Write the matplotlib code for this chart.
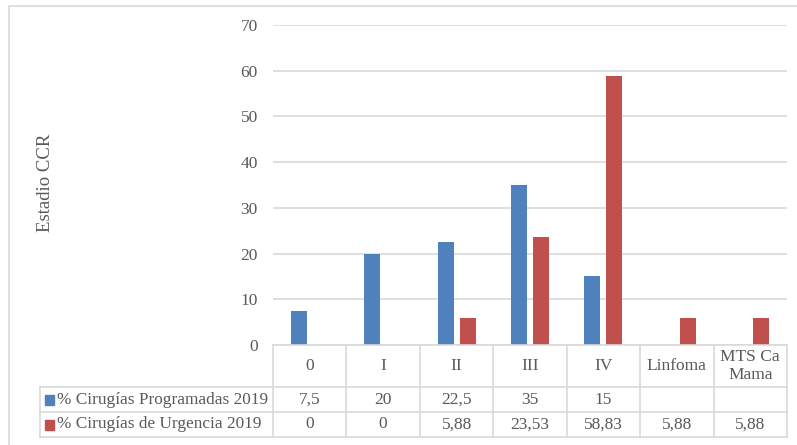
import matplotlib
matplotlib.use("Agg")
import matplotlib.pyplot as plt
from matplotlib.patches import Rectangle
from matplotlib.lines import Line2D

categories = ["0", "I", "II", "III", "IV", "Linfoma", "MTS Ca\nMama"]
series_names = ["% Cirugías Programadas 2019", "% Cirugías de Urgencia 2019"]
programadas = [7.5, 20, 22.5, 35, 15, None, None]
urgencia = [0, 0, 5.88, 23.53, 58.83, 5.88, 5.88]
programadas_labels = ["7,5", "20", "22,5", "35", "15", "", ""]
urgencia_labels = ["0", "0", "5,88", "23,53", "58,83", "5,88", "5,88"]
y_ticks = [0, 10, 20, 30, 40, 50, 60, 70]

BLUE = "#4F81BD"
RED = "#C0504D"
GRID = "#D9D9D9"
TEXT = "#595959"
FONT = "Liberation Serif"

W, H = 797, 445
fig = plt.figure(figsize=(W / 100, H / 100), dpi=100)
fig.patch.set_facecolor("white")


def fx(px):
    return px / W


def fy(py):
    return 1 - py / H


# outer chart frame
fig.add_artist(Rectangle((fx(9), fy(460)), fx(800) - fx(9), fy(6) - fy(460),
                         transform=fig.transFigure, fill=False,
                         edgecolor=GRID, linewidth=1.2))

ax_l, ax_r, ax_t, ax_b = 273, 787, 25, 345
ax = fig.add_axes([fx(ax_l), fy(ax_b), fx(ax_r) - fx(ax_l), fy(ax_t) - fy(ax_b)])

n = len(categories)
x = list(range(n))
bw = 0.218
off = 0.15
prog_vals = [v if v is not None else 0 for v in programadas]
ax.bar([i - off for i in x], prog_vals, width=bw, color=BLUE, zorder=3)
ax.bar([i + off for i in x], urgencia, width=bw, color=RED, zorder=3)

ax.set_xlim(-0.5, n - 0.5)
ax.set_ylim(0, 70)
ax.set_yticks(y_ticks)
ax.set_yticklabels([str(t) for t in y_ticks], fontname=FONT, fontsize=12.5, color=TEXT)
ax.tick_params(axis="y", length=0, pad=11)
ax.set_xticks([])
ax.yaxis.grid(True, color=GRID, linewidth=1.2, zorder=0)
for s in ax.spines.values():
    s.set_visible(False)
ax.set_facecolor("none")

fig.text(fx(45), fy(183), "Estadio CCR", rotation=90, ha="center", va="center",
         fontname=FONT, fontsize=13.5, color=TEXT)

# data table below the plot
row_top, row1, row2, row_bot = 345, 387, 412, 437
tbl_left = 40
col_edges = [ax_l + (ax_r - ax_l) * k / n for k in range(n + 1)]


def hline(y, x0, x1):
    fig.add_artist(Line2D([fx(x0), fx(x1)], [fy(y), fy(y)], transform=fig.transFigure,
                          color=GRID, linewidth=1.2))


def vline(xp, y0, y1):
    fig.add_artist(Line2D([fx(xp), fx(xp)], [fy(y0), fy(y1)], transform=fig.transFigure,
                          color=GRID, linewidth=1.2))


hline(row_top, ax_l, ax_r)
for yy in (row1, row2, row_bot):
    hline(yy, tbl_left, ax_r)
vline(tbl_left, row1, row_bot)
for xe in col_edges:
    vline(xe, row_top, row_bot)

tkw = dict(fontname=FONT, fontsize=12.5, color=TEXT, ha="center", va="center")
for i, cat in enumerate(categories):
    cx = ax.transData.transform((i, 0))[0]
    cx_f = cx / fig.bbox.width
    fig.text(cx_f, fy((row_top + row1) / 2), cat, linespacing=1.1, **tkw)
    fig.text(cx_f, fy((row1 + row2) / 2), programadas_labels[i], **tkw)
    fig.text(cx_f, fy((row2 + row_bot) / 2), urgencia_labels[i], **tkw)

for (y0, y1), name, col in zip([(row1, row2), (row2, row_bot)], series_names, [BLUE, RED]):
    yc = (y0 + y1) / 2
    fig.add_artist(Rectangle((fx(45), fy(yc + 5)), fx(9), fy(0) - fy(10),
                             transform=fig.transFigure, color=col))
    fig.text(fx(57), fy(yc), name, fontname=FONT, fontsize=12.4, color=TEXT,
             ha="left", va="center")

fig.savefig("out.png", dpi=100, facecolor="white")
